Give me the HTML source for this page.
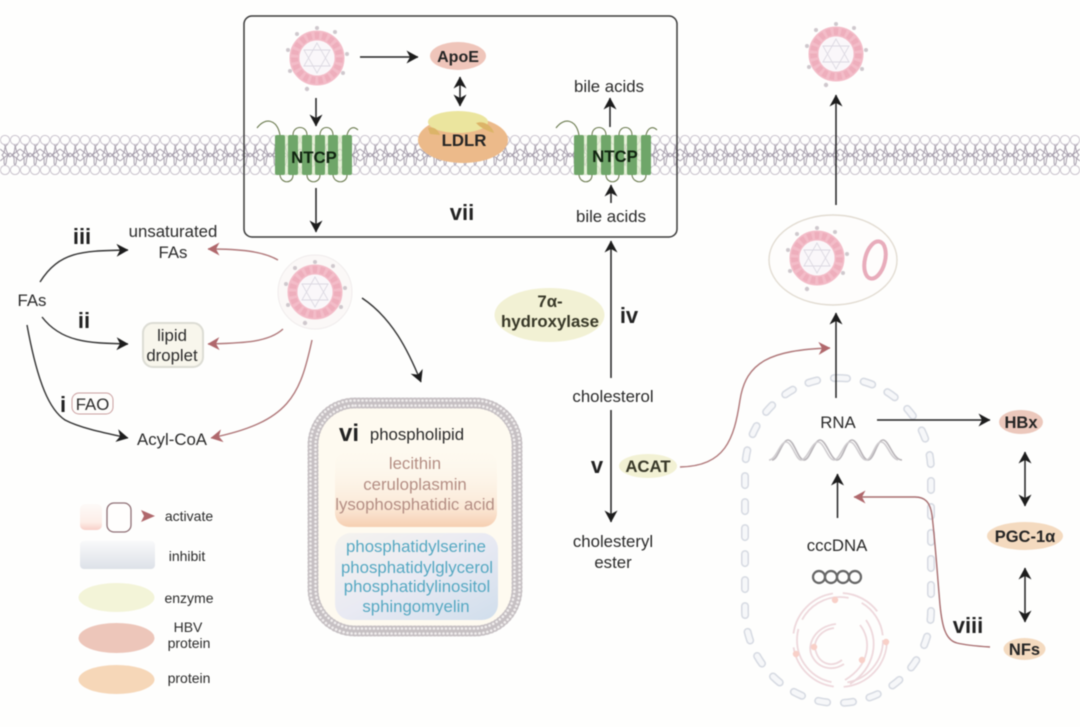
<!DOCTYPE html>
<html lang="en">
<head>
<meta charset="utf-8">
<title>HBV lipid metabolism diagram</title>
<style>
html,body{margin:0;padding:0;background:#fefefd;overflow:hidden;}
svg{display:block;filter:blur(0.45px);}
text{font-family:"Liberation Sans",sans-serif;fill:#2b2b2b;font-size:16.8px;text-anchor:middle;}
.b{font-weight:bold;fill:#252525;}
.n{font-size:22px;font-weight:bold;fill:#222;}
.leg{font-size:14px;}
.red{fill:#b48e84;font-size:16.8px;}
.blue{fill:#56a8c2;font-size:16.8px;}
</style>
</head>
<body>
<svg width="1080" height="727" viewBox="0 0 1080 727" xmlns="http://www.w3.org/2000/svg">
<defs>
<marker id="a" viewBox="0 0 12 13" refX="11.5" refY="6.5" markerWidth="12" markerHeight="13" markerUnits="userSpaceOnUse" orient="auto-start-reverse">
<path d="M0 0L12 6.5L0 13L3.5 6.5Z" fill="#1d1d1d"/>
</marker>
<marker id="r" viewBox="0 0 12 13" refX="11.5" refY="6.5" markerWidth="12" markerHeight="13" markerUnits="userSpaceOnUse" orient="auto-start-reverse">
<path d="M0 0L12 6.5L0 13L3.5 6.5Z" fill="#b0686c"/>
</marker>
<pattern id="mem" patternUnits="userSpaceOnUse" x="0" y="135" width="20" height="40">
<g fill="none" stroke="#a69eac" stroke-width="1">
<path d="M2 8C8 12 4 15 9 20C4 24 9 28 3 32M8 9C2 13 7 16 2 20C7 25 1 28 7 32"/>
<path d="M12 8C18 12 14 15 19 20C14 24 19 28 13 32M18 9C12 13 17 16 12 20C17 25 11 28 17 32"/>
<path d="M0 14L10 22L20 14M0 26L10 18L20 26"/>
</g>
<g fill="#fefefd" stroke="#c8c1cc" stroke-width="0.9">
<circle cx="5" cy="5" r="4.6"/><circle cx="15" cy="5" r="4.6"/>
<circle cx="5" cy="35" r="4.6"/><circle cx="15" cy="35" r="4.6"/>
</g>
</pattern>
<g id="v">
<g fill="#cfc8cd">
<circle cx="0" cy="-30" r="2"/><circle cx="18" cy="-26" r="2"/><circle cx="30" cy="-4" r="2"/>
<circle cx="26" cy="15" r="2"/><circle cx="-10" cy="31" r="2.2"/>
<circle cx="-27" cy="13" r="2"/><circle cx="-29" cy="-8" r="2"/><circle cx="-20" cy="-24" r="2"/>
</g>
<circle r="22.5" fill="none" stroke="#f3bcc8" stroke-width="10"/>
<circle r="22.5" fill="none" stroke="#eeaebc" stroke-width="7" stroke-dasharray="4.4 3"/>
<circle r="17.5" fill="#faf7fa"/>
<path d="M0-15L-13 8H13ZM-13-8H13L0 15Z" fill="none" stroke="#dcd9e2" stroke-width="0.9"/>
</g>
<linearGradient id="peach" x1="0" y1="0" x2="0" y2="1">
<stop offset="0" stop-color="#fdf7ec" stop-opacity="0"/>
<stop offset="0.75" stop-color="#fbe8d6"/>
<stop offset="1" stop-color="#f6cfb2"/>
</linearGradient>
<linearGradient id="bluef" x1="0" y1="0" x2="1" y2="1">
<stop offset="0" stop-color="#f5f3ef"/>
<stop offset="0.5" stop-color="#e9eaf3"/>
<stop offset="1" stop-color="#d0deec"/>
</linearGradient>
<linearGradient id="inh" x1="0" y1="0" x2="0" y2="1">
<stop offset="0" stop-color="#f9f9fa"/>
<stop offset="1" stop-color="#dde1e8"/>
</linearGradient>
<linearGradient id="act" x1="0" y1="0" x2="0" y2="1">
<stop offset="0" stop-color="#fdfaf8"/>
<stop offset="0.7" stop-color="#fdeee8"/>
<stop offset="1" stop-color="#f8cfc8"/>
</linearGradient>
</defs>

<rect width="1080" height="727" fill="#fefefd"/>

<!-- membrane -->
<rect x="0" y="135" width="1080" height="40" fill="url(#mem)"/>

<!-- vii box -->
<rect x="244" y="16" width="433" height="221" rx="8" fill="none" stroke="#3a3a3a" stroke-width="1.5"/>

<!-- viruses -->
<use href="#v" x="317" y="58"/>
<use href="#v" x="836" y="54"/>
<circle cx="315" cy="292" r="37" fill="#fbf8f7" stroke="#f0ecec" stroke-width="1"/>
<use href="#v" x="315" y="292"/>
<ellipse cx="833" cy="260" rx="64" ry="45" fill="#fefdfc" stroke="#e2dcd2" stroke-width="1.4"/>
<use href="#v" x="817" y="258"/>
<ellipse cx="875" cy="260" rx="10" ry="19" transform="rotate(14 875 260)" fill="none" stroke="#e8acbb" stroke-width="4"/>

<!-- arrows in box -->
<path d="M360 57H418" stroke="#222" stroke-width="1.5" fill="none" marker-end="url(#a)"/>
<path d="M316 98V126" stroke="#222" stroke-width="1.5" fill="none" marker-end="url(#a)"/>
<path d="M316 188V232" stroke="#222" stroke-width="1.5" fill="none" marker-end="url(#a)"/>
<path d="M460 77V106" stroke="#222" stroke-width="1.5" fill="none" marker-start="url(#a)" marker-end="url(#a)"/>
<path d="M610 127V98" stroke="#222" stroke-width="1.5" fill="none" marker-end="url(#a)"/>
<path d="M611 203V185" stroke="#222" stroke-width="1.5" fill="none" marker-end="url(#a)"/>

<!-- ApoE -->
<ellipse cx="458" cy="56" rx="28" ry="14" fill="#efc5ba"/>
<text x="458" y="62" class="b" style="font-size:16px">ApoE</text>

<!-- LDLR -->
<ellipse cx="463" cy="140" rx="45" ry="23" fill="#ecba8a"/>
<ellipse cx="458" cy="122" rx="30" ry="11" fill="#ebe59e"/>
<path d="M428 128C434 126 438 130 440 135L430 134Z" fill="#dcb468"/>
<path d="M476 123C484 120 492 126 494 133C488 131 482 129 476 123Z" fill="#dcb468"/>
<text x="464" y="146" class="b" style="font-size:16.8px">LDLR</text>

<!-- NTCP left -->
<g id="ntcp">
<rect x="275" y="135" width="77" height="40" fill="#dcebc8" opacity="0.7"/>
<path d="M257 128C265 117 277 119 280 135M293 135C293 125 307 125 307 135M320 135C320 125 333 125 333 135M347 135C349 127 354 126 358 130" fill="none" stroke="#6a7a4e" stroke-width="1.1"/>
<path d="M280 175C281 184 293 184 293 175M307 175C307 184 320 184 320 175M333 175C334 184 347 184 347 175" fill="none" stroke="#6a7a4e" stroke-width="1.1"/>
<g fill="#6fa669">
<rect x="275" y="135" width="10" height="40" rx="2"/><rect x="288" y="135" width="10" height="40" rx="2"/>
<rect x="302" y="135" width="10" height="40" rx="2"/><rect x="315" y="135" width="10" height="40" rx="2"/>
<rect x="328" y="135" width="10" height="40" rx="2"/><rect x="342" y="135" width="10" height="40" rx="2"/>
</g>
</g>
<text x="314" y="163" class="b" style="font-size:16.8px;fill:#102410">NTCP</text>
<use href="#ntcp" x="299" y="0"/>
<text x="615" y="162" class="b" style="font-size:16.8px;fill:#102410">NTCP</text>

<text x="462" y="220" class="n">vii</text>
<text x="609" y="92">bile acids</text>
<text x="611" y="222">bile acids</text>

<!-- left section -->
<text x="32" y="306">FAs</text>
<text x="82" y="244" class="n">iii</text>
<text x="84" y="328" class="n">ii</text>
<text x="63" y="412" class="n">i</text>
<rect x="72" y="393" width="41" height="21" rx="7" fill="#fefdfb" stroke="#cba0a0" stroke-width="1"/>
<text x="92.5" y="410">FAO</text>
<text x="173" y="237">unsaturated</text>
<text x="173" y="258">FAs</text>
<rect x="143" y="323" width="60" height="44" rx="10" fill="#f8f6ec" stroke="#dcdcd4" stroke-width="2"/>
<text x="172" y="341">lipid</text>
<text x="172" y="361">droplet</text>
<text x="172" y="445">Acyl-CoA</text>

<path d="M40 282C60 250 85 251 128 250" fill="none" stroke="#333" stroke-width="1.4" marker-end="url(#a)"/>
<path d="M42 317C62 343 90 343 128 344" fill="none" stroke="#333" stroke-width="1.4" marker-end="url(#a)"/>
<path d="M27 325C38 385 50 410 65 420C80 428 105 433 128 438" fill="none" stroke="#333" stroke-width="1.4" marker-end="url(#a)"/>
<path d="M278 260C262 251 240 249 208 249" fill="none" stroke="#b0787a" stroke-width="1.4" marker-end="url(#r)"/>
<path d="M283 329C268 343 240 343 208 344" fill="none" stroke="#b0787a" stroke-width="1.4" marker-end="url(#r)"/>
<path d="M312 340C300 395 290 422 211 438" fill="none" stroke="#b0787a" stroke-width="1.4" marker-end="url(#r)"/>
<path d="M362 298C392 318 408 350 421 382" fill="none" stroke="#333" stroke-width="1.4" marker-end="url(#a)"/>

<!-- phospholipid vesicle -->
<rect x="313" y="403" width="204" height="228" rx="42" fill="#fefaf0"/>
<rect x="313" y="403" width="204" height="228" rx="42" fill="none" stroke="#c6c0c3" stroke-width="11" stroke-linecap="round" stroke-dasharray="0 4"/>
<rect x="310.5" y="400.5" width="209" height="233" rx="44" fill="none" stroke="#f0eded" stroke-width="2.6" stroke-linecap="round" stroke-dasharray="0 4"/>
<rect x="315.5" y="405.5" width="199" height="223" rx="40" fill="none" stroke="#f0eded" stroke-width="2.6" stroke-linecap="round" stroke-dasharray="0 4"/>
<rect x="335" y="450" width="162" height="77" rx="14" fill="url(#peach)"/>
<rect x="335" y="533" width="163" height="87" rx="16" fill="url(#bluef)"/>
<text x="349" y="441" class="n" style="font-size:24px">vi</text>
<text x="417" y="440">phospholipid</text>
<text x="415" y="469" class="red">lecithin</text>
<text x="415" y="490" class="red">ceruloplasmin</text>
<text x="415" y="510" class="red">lysophosphatidic acid</text>
<text x="416" y="552" class="blue">phosphatidylserine</text>
<text x="417" y="573" class="blue">phosphatidylglycerol</text>
<text x="417" y="592" class="blue">phosphatidylinositol</text>
<text x="416" y="612" class="blue">sphingomyelin</text>

<!-- cholesterol column -->
<ellipse cx="549.5" cy="315" rx="55" ry="27" fill="#f2f1d4"/>
<text x="550" y="307" class="b" style="font-size:16.8px;fill:#383828">7α-</text>
<text x="550" y="327" class="b" style="font-size:16.8px;fill:#383828">hydroxylase</text>
<path d="M611 378V241" stroke="#222" stroke-width="1.5" fill="none" marker-end="url(#a)"/>
<text x="629" y="323" class="n">iv</text>
<text x="613" y="402">cholesterol</text>
<path d="M611 410V522" stroke="#222" stroke-width="1.5" fill="none" marker-end="url(#a)"/>
<text x="597" y="473" class="n">v</text>
<ellipse cx="648" cy="466" rx="29" ry="12" fill="#f2f1d4"/>
<text x="648" y="472" class="b" style="font-size:16.8px;fill:#383828">ACAT</text>
<text x="613" y="547">cholesteryl</text>
<text x="613" y="568">ester</text>
<path d="M680 467C725 466 734 440 740 400C746 362 770 350 830 348" fill="none" stroke="#b0787a" stroke-width="1.4" marker-end="url(#r)"/>

<!-- nucleus -->
<rect x="745" y="378" width="186" height="325" rx="93" fill="none" stroke="#d6dae2" stroke-width="8" stroke-linecap="round" stroke-dasharray="9 17"/>
<rect x="745" y="378" width="186" height="325" rx="93" fill="none" stroke="#f6f7f9" stroke-width="5" stroke-linecap="round" stroke-dasharray="9 17"/>
<path d="M836 398V313" stroke="#222" stroke-width="1.5" fill="none" marker-end="url(#a)"/>
<path d="M836 205V95" stroke="#222" stroke-width="1.5" fill="none" marker-end="url(#a)"/>
<text x="838" y="428">RNA</text>
<path d="M877 420H990" stroke="#222" stroke-width="1.5" fill="none" marker-end="url(#a)"/>
<path d="M772 460C778 460 782 440 788 440C794 440 798 460 804 460C810 460 814 440 820 440C826 440 831 460 837 460C843 460 846 440 852 440C858 440 862 460 868 460C874 460 877 440 883 440C889 440 893 460 902 460" fill="none" stroke="#b8b4b8" stroke-width="1.6"/>
<path d="M769 460C776 460 780 442 786 442C792 442 796 460 801 460C807 460 812 442 818 442C824 442 828 460 834 460C840 460 844 442 850 442C856 442 860 460 866 460C872 460 875 442 881 442C887 442 890 458 898 460" fill="none" stroke="#cfcccf" stroke-width="1.6"/>
<path d="M837.5 518V474" stroke="#222" stroke-width="1.5" fill="none" marker-end="url(#a)"/>
<text x="837" y="551">cccDNA</text>
<g fill="none" stroke="#666" stroke-width="2.2">
<circle cx="819" cy="577" r="6"/><circle cx="831" cy="577" r="6"/><circle cx="843" cy="577" r="6"/><circle cx="855" cy="577" r="6"/>
</g>
<g fill="none" stroke="#eed8dc" stroke-width="1.8">
<circle cx="840" cy="640" r="47" stroke-dasharray="70 10 60 14 60 10 40 30"/>
<circle cx="840" cy="640" r="43" stroke-dasharray="60 16 70 10 55 14 40 20"/>
<path d="M860 625C872 640 870 665 845 680M866 620C880 640 875 668 850 684"/>
<path d="M834 628C820 630 812 642 816 652C820 664 832 668 842 660M836 624C816 626 806 644 812 656C818 668 832 672 844 664"/>
</g>
<g fill="#f8d0c8"><circle cx="835" cy="600" r="3.2"/><circle cx="886" cy="642" r="3.2"/><circle cx="862" cy="660" r="3.2"/><circle cx="814" cy="647" r="3.2"/><circle cx="796" cy="654" r="3.2"/></g>

<!-- right column -->
<ellipse cx="1021" cy="422" rx="22" ry="12" fill="#ecc8bc"/>
<text x="1021" y="428" class="b" style="font-size:16.5px">HBx</text>
<path d="M1025 452V506" stroke="#222" stroke-width="1.5" fill="none" marker-start="url(#a)" marker-end="url(#a)"/>
<ellipse cx="1025" cy="536" rx="38" ry="14" fill="#f4dabf"/>
<text x="1025" y="542" class="b" style="font-size:16.5px">PGC-1α</text>
<path d="M1025 568V622" stroke="#222" stroke-width="1.5" fill="none" marker-start="url(#a)" marker-end="url(#a)"/>
<ellipse cx="1024.5" cy="649" rx="21" ry="11" fill="#f4dabf"/>
<text x="1024.5" y="655" class="b" style="font-size:16.5px">NFs</text>
<text x="968" y="633" class="n">viii</text>
<path d="M990 647C975 646 965 645 957 643C945 640 942 625 940 605C937 570 935 540 932 515C930 502 925 497 915 497L854 497" fill="none" stroke="#a86e70" stroke-width="1.4" marker-end="url(#r)"/>

<!-- legend -->
<rect x="80" y="504" width="22" height="26" rx="5" fill="url(#act)"/>
<rect x="107" y="503" width="24" height="29" rx="7" fill="#fffefd" stroke="#8f7076" stroke-width="1.3"/>
<path d="M141 510L155 516L141 522L144 516Z" fill="#b0686c"/>
<text x="189" y="521" class="leg">activate</text>
<rect x="80" y="541" width="75" height="28" rx="4" fill="url(#inh)"/>
<text x="187" y="561" class="leg">inhibit</text>
<ellipse cx="116.5" cy="597.5" rx="38" ry="14.5" fill="#f3f4d8"/>
<text x="189" y="603" class="leg">enzyme</text>
<ellipse cx="116.5" cy="638" rx="38" ry="15" fill="#edc6ba"/>
<text x="188" y="632" class="leg">HBV</text>
<text x="189" y="648" class="leg">protein</text>
<ellipse cx="116.5" cy="679.5" rx="38" ry="14.5" fill="#f6d7b8"/>
<text x="189" y="683" class="leg">protein</text>
</svg>
</body>
</html>
